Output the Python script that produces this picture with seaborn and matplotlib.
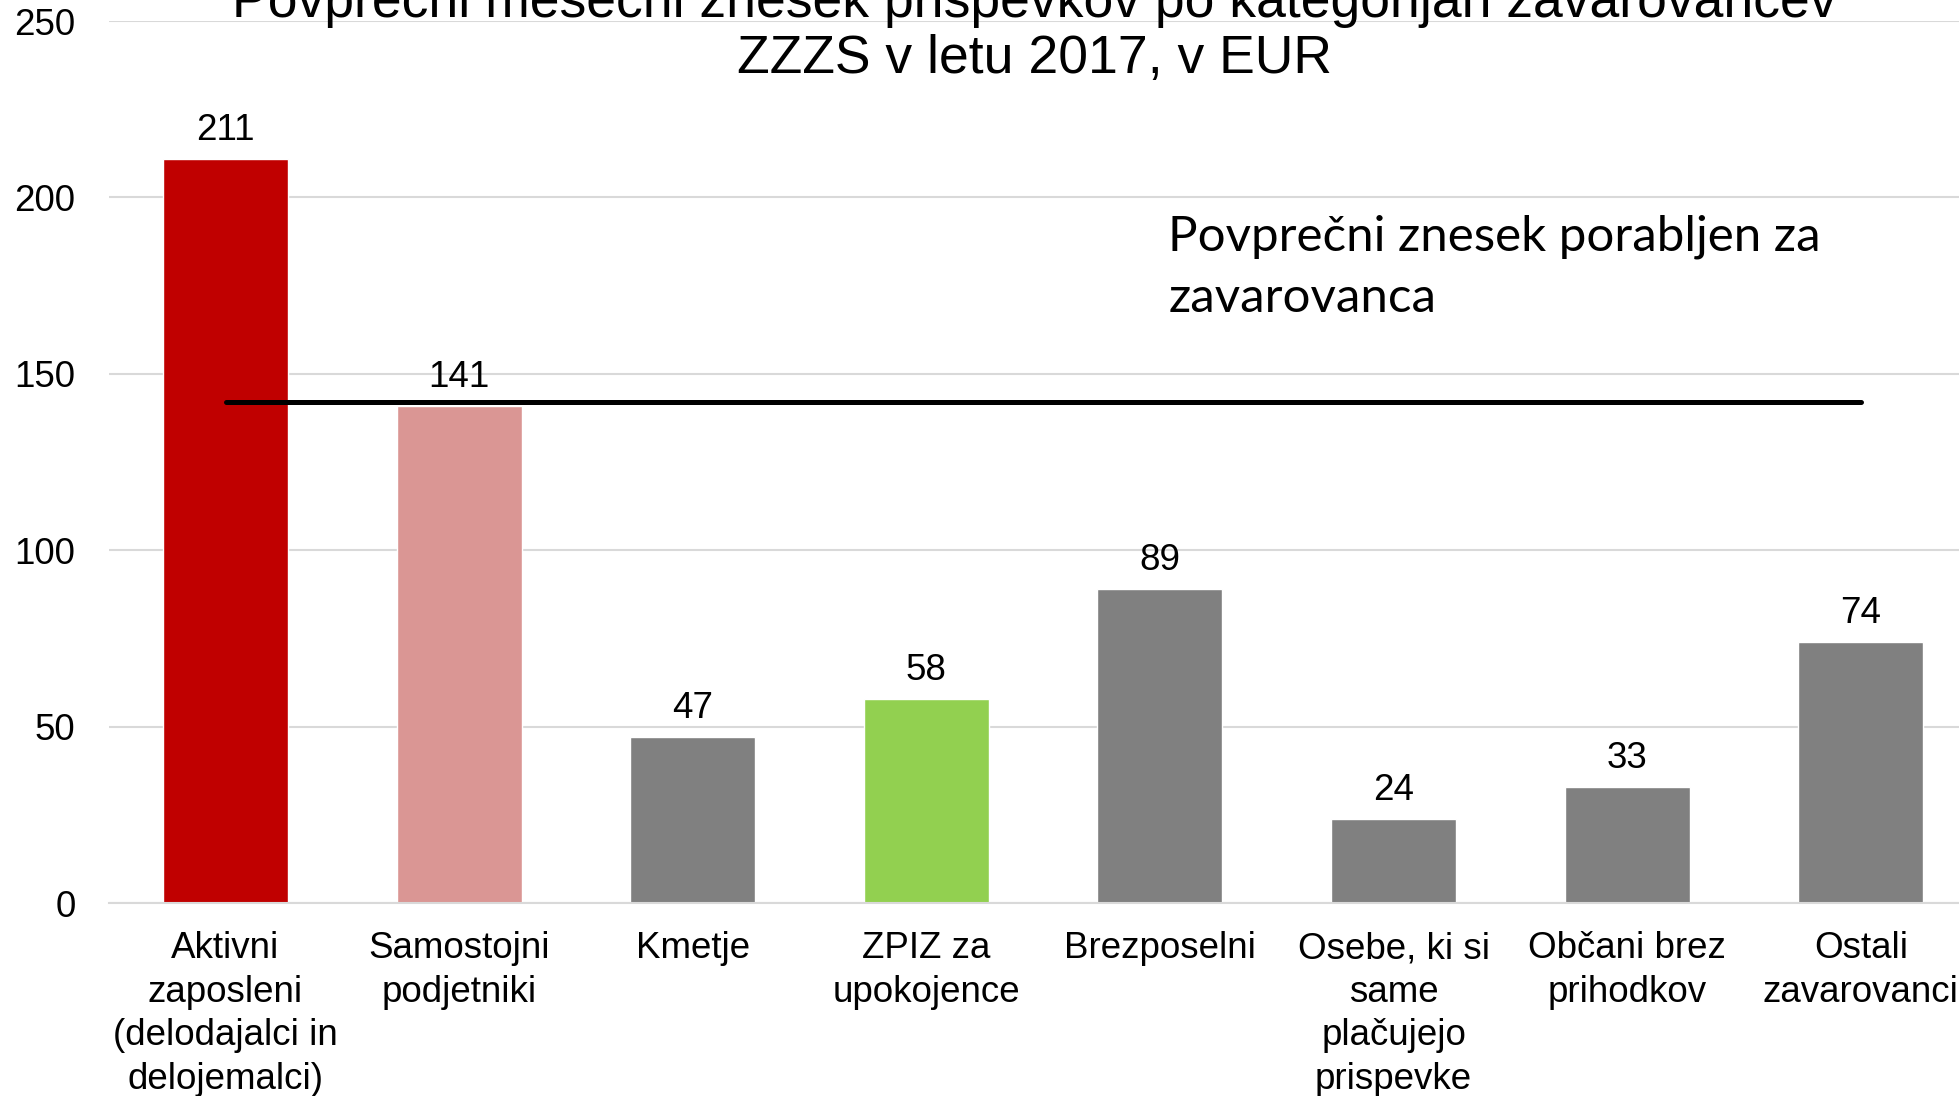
import matplotlib
matplotlib.use("Agg")
import matplotlib.pyplot as plt
import seaborn as sns
import pandas as pd

# Data
categories = ["Aktivni\nzaposleni\n(delodajalci in\ndelojemalci)",
              "Samostojni\npodjetniki",
              "Kmetje",
              "ZPIZ za\nupokojence",
              "Brezposelni",
              "Osebe, ki si\nsame\nplačujejo\nprispevke",
              "Občani brez\nprihodkov",
              "Ostali\nzavarovanci"]
values = [211, 141, 47, 58, 89, 24, 33, 74]
bar_colors = ["#C00000", "#DA9694", "#808080", "#92D050",
              "#808080", "#808080", "#808080", "#808080"]
average = 142
title = "Povprečni mesečni znesek prispevkov po kategorijah zavarovancev\nZZZS v letu 2017, v EUR"
note = "Povprečni znesek porabljen za\nzavarovanca"

df = pd.DataFrame({"kategorija": categories, "znesek": values})

sns.set_style("white")
plt.rcParams['font.family'] = ['Liberation Sans', 'DejaVu Sans']
plt.rcParams['text.color'] = 'black'
plt.rcParams['xtick.color'] = 'black'
plt.rcParams['ytick.color'] = 'black'

fig = plt.figure(figsize=(19.59, 10.96), dpi=100)
ax = fig.add_axes([0.0555, 0.1758, 0.954, 0.805])

sns.barplot(data=df, x="kategorija", y="znesek", hue="kategorija",
            palette=bar_colors, width=0.535, legend=False, saturation=1, ax=ax)

# average line from first to last category
ax.plot([0, len(values) - 1], [average, average], color="black", lw=3.6,
        solid_capstyle="round", zorder=5)

# value labels
for i, v in enumerate(values):
    ax.annotate(str(v), (i, v), xytext=(0, 20.5), textcoords="offset points",
                ha="center", va="center", fontsize=26.5)

ax.set_ylim(0, 250)
ax.set_yticks(range(0, 251, 50))
ax.set_xlim(-0.5, len(values) - 0.5)
ax.yaxis.grid(True, color="#D9D9D9", lw=1.5)
ax.set_axisbelow(True)
for s in ["top", "right", "left"]:
    ax.spines[s].set_visible(False)
ax.spines["bottom"].set_color("#D9D9D9")
ax.spines["bottom"].set_linewidth(1.5)
ax.tick_params(axis="y", length=0, pad=24, labelsize=26.5)
ax.tick_params(axis="x", length=0, pad=20, labelsize=26.5)
for lbl in ax.get_xticklabels():
    lbl.set_linespacing(1.32)
ax.set_xlabel("")
ax.set_ylabel("")

fig.text(0.528, 0.972, title, ha="center", va="center", fontsize=38.5, linespacing=1.15)
ax.text(4.035, 180.3, note, ha="left", va="center", fontsize=35.5,
        family=["Lato", "DejaVu Sans"], linespacing=1.47)

fig.savefig("out.png", dpi=100)
